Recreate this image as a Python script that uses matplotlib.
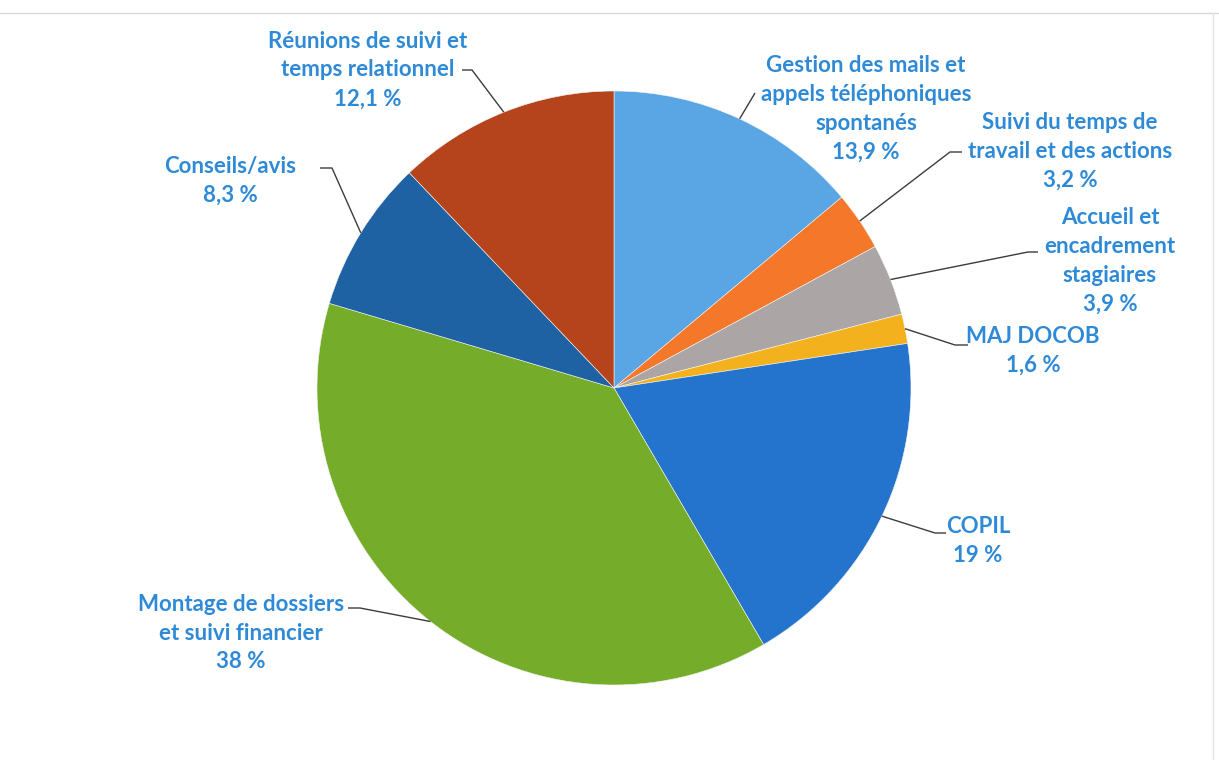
import numpy as np
import matplotlib
matplotlib.use("Agg")
import matplotlib.pyplot as plt

categories = ["Gestion des mails et\nappels téléphoniques\nspontanés",
              "Suivi du temps de\ntravail et des actions",
              "Accueil et\nencadrement\nstagiaires",
              "MAJ DOCOB",
              "COPIL",
              "Montage de dossiers\net suivi financier",
              "Conseils/avis",
              "Réunions de suivi et\ntemps relationnel"]
values = [13.9, 3.2, 3.9, 1.6, 19, 38, 8.3, 12.1]
value_labels = ["13,9 %", "3,2 %", "3,9 %", "1,6 %", "19 %", "38 %", "8,3 %", "12,1 %"]
colors = ["#5AA5E3", "#F5772A", "#ABA5A5", "#F3B21D", "#2474CD", "#75AC29", "#1E62A4", "#B5441D"]

W, H = 1219, 760
fig = plt.figure(figsize=(W / 100, H / 100), dpi=100)
ax = fig.add_axes([0, 0, 1, 1])
ax.set_xlim(0, W)
ax.set_ylim(0, H)
ax.set_aspect("equal")
ax.axis("off")

cx, cy_px, R = 614, 388, 297
cy = H - cy_px
ax.pie(values, colors=colors, startangle=90, counterclock=False,
       center=(cx, cy), radius=R, frame=True,
       wedgeprops=dict(linewidth=0.4, edgecolor="#F4F4F4"))
ax.set_xlim(0, W)
ax.set_ylim(0, H)
ax.axis("off")

# label layout (pixel positions): text center, elbow point, line end near text
layout = [
    dict(tc=(866, 109), elbow=(755, 93), end=(755, 93)),
    dict(tc=(1070, 151), elbow=(950, 152), end=(962, 152)),
    dict(tc=(1110, 261), elbow=(1028, 252), end=(1038, 252)),
    dict(tc=(1033, 351), elbow=(955, 345), end=(968, 345)),
    dict(tc=(978, 541), elbow=(935, 533), end=(946, 533)),
    dict(tc=(241, 633), elbow=(360, 608), end=(348, 608)),
    dict(tc=(230, 181), elbow=(332, 168), end=(320, 168)),
    dict(tc=(368, 70), elbow=(472, 70), end=(462, 70)),
]

txt_color = "#2E8AD6"
total = sum(values)
cum = 0.0
for cat, v, vl, lay in zip(categories, values, value_labels, layout):
    mid = (cum + v / 2) / total * 360.0
    cum += v
    a = np.deg2rad(mid)
    px = cx + R * np.sin(a)
    py = cy + R * np.cos(a)
    ex, ey = lay["elbow"]
    nx, ny = lay["end"]
    ax.plot([px, ex, nx], [py, H - ey, H - ny], color="#3C3C3C", lw=1.0,
            solid_capstyle="butt", zorder=3)
    tx, ty = lay["tc"]
    ax.text(tx, H - ty, cat + "\n" + vl, ha="center", va="center",
            fontsize=16, fontfamily="Lato", fontweight="bold",
            color=txt_color, linespacing=1.46, zorder=4)

# faint scan border
ax.plot([0, W], [H - 13, H - 13], color="#D8D8D8", lw=1)
ax.plot([1213, 1213], [H - 13, 0], color="#E2E2E2", lw=1)

fig.savefig("out.png", dpi=100)
